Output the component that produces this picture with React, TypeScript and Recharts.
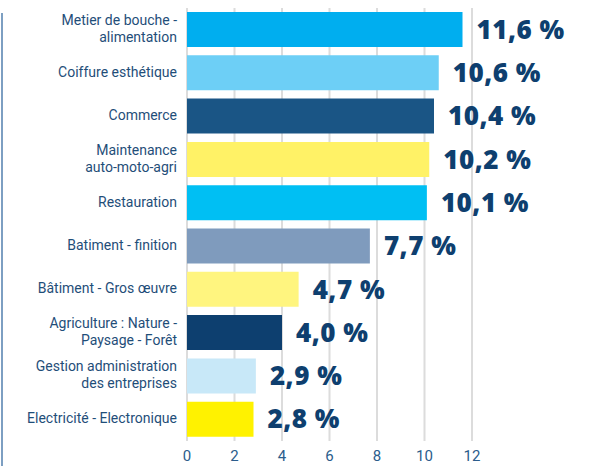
import { BarChart, Bar, XAxis, YAxis, CartesianGrid, Cell, LabelList } from 'recharts'

const categories = [
  'Metier de bouche -\nalimentation',
  'Coiffure esthétique',
  'Commerce',
  'Maintenance\nauto-moto-agri',
  'Restauration',
  'Batiment - finition',
  'Bâtiment - Gros œuvre',
  'Agriculture : Nature -\nPaysage - Forêt',
  'Gestion administration\ndes entreprises',
  'Electricité - Electronique',
]
const values = [11.6, 10.6, 10.4, 10.2, 10.1, 7.7, 4.7, 4.0, 2.9, 2.8]
const barColors = [
  '#00aeef', '#6dcff6', '#1a5585', '#fff266', '#00bff3',
  '#7f9bbd', '#fff57f', '#0d3f6f', '#c8e8f8', '#fff200',
]
const xTicks = [0, 2, 4, 6, 8, 10, 12]

const data = categories.map((name, i) => ({ name, value: values[i] }))

// étiquettes multi-lignes alignées à droite
function CategoryTick(props: any) {
  const { x, y, payload } = props
  const lines: string[] = String(payload.value).split('\n')
  const lh = 17
  const start = -((lines.length - 1) * lh) / 2 - 1
  return (
    <text x={x} y={y} textAnchor="end" fill="#1f4e79" fontSize={14} fontFamily="Roboto, sans-serif">
      {lines.map((l, i) => (
        <tspan key={i} x={x} y={y + start + i * lh} dy="0.35em">{l}</tspan>
      ))}
    </text>
  )
}

const fmt = (v: any) => Number(v).toFixed(1).replace('.', ',') + ' %'

export default function App() {
  return (
    <div style={{ position: 'absolute', left: 0, top: 0, width: 589, height: 466, background: '#fff' }}>
      <div style={{ position: 'absolute', left: 1, top: 13, width: 2, height: 453, background: '#7d9fc2' }} />
      <BarChart
        width={589}
        height={466}
        data={data}
        layout="vertical"
        margin={{ top: 8, right: 117, bottom: 0, left: 0 }}
        barCategoryGap={8}
      >
        <CartesianGrid horizontal={false} stroke="#dcdcdc" strokeWidth={2} />
        <XAxis
          type="number"
          domain={[0, 12]}
          ticks={xTicks}
          axisLine={false}
          tickLine={false}
          height={25}
          tickMargin={3}
          tick={{ fill: '#2b5d8c', fontSize: 15, fontFamily: 'Roboto, sans-serif' }}
        />
        <YAxis
          type="category"
          dataKey="name"
          width={187}
          axisLine={false}
          tickLine={false}
          tickMargin={4}
          tick={<CategoryTick />}
          interval={0}
        />
        <Bar dataKey="value" isAnimationActive={false} barSize={35}>
          {data.map((d, i) => (
            <Cell key={d.name} fill={barColors[i]} />
          ))}
          <LabelList
            dataKey="value"
            position="right"
            offset={14}
            formatter={fmt}
            fill="#0e3f6f"
            fontSize={26}
            fontWeight={800}
            letterSpacing={0.5}
            fontFamily="'Open Sans', sans-serif"
          />
        </Bar>
      </BarChart>
    </div>
  )
}
